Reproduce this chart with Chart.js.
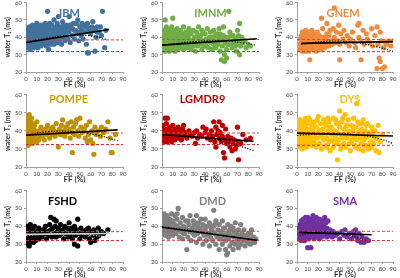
<!DOCTYPE html>
<html>
<head>
<meta charset="utf-8">
<script src="https://cdn.jsdelivr.net/npm/chart.js@4/dist/chart.umd.min.js"></script>
<style>
    html, body { margin: 0; padding: 0; background: #fff; width: 400px; height: 278px; overflow: hidden; position: relative; }
    canvas { position: absolute; }
</style>
</head>
<body>
<script>
// --- data: [FF %, water T2 ms] ---
const ibmPts = [[1,36],[1,39],[1,42],[2,34],[2,37],[2,40],[2,44],[3,35],[3,38],[3,41],[3,46],[4,33],[4,36],[4,39],[4,43],[5,37],[5,40],[5,45],[6,35],[6,38],[6,42],[6,47],[7,34],[7,37],[7,41],[7,44],[8,36],[8,39],[8,46],[9,35],[9,38],[9,42],[10,37],[10,40],[10,44],[10,48],[11,34],[11,39],[12,36],[12,41],[12,45],[13,38],[13,43],[14,35],[14,40],[14,47],[15,37],[15,42],[15,45],[16,39],[16,44],[17,36],[17,41],[18,38],[18,43],[18,48],[19,35],[19,40],[20,37],[20,42],[20,46],[20,55],[21,33],[22,39],[22,44],[23,36],[23,41],[24,38],[24,47],[25,40],[25,43],[26,36],[26,50],[27,39],[27,45],[28,42],[29,37],[29,48],[30,40],[30,44],[30,52],[31,38],[32,42],[32,46],[33,36],[34,40],[34,49],[35,43],[36,38],[36,45],[37,41],[38,47],[39,39],[40,43],[40,52],[41,37],[42,45],[43,41],[44,48],[45,39],[46,44],[47,42],[48,50],[49,38],[50,46],[51,41],[52,44],[53,39],[54,47],[55,43],[56,36],[57,31],[58,31],[58,45],[60,42],[62,49],[63,44],[64,32],[65,40],[66,46],[68,43],[70,41],[71,55],[73,34],[74,44],
    [1,45],[3,44],[5,42],[6,44],[8,41],[9,44],[11,42],[11,46],[13,46],[16,47],[17,45],[19,44],[21,46],[22,48],[24,44],[26,42],[28,46],[31,45],[33,44],[35,47],[37,44],[39,46],[41,47],[43,45],[45,44],[47,48],[50,43],[52,48],[55,46],[57,48],[59,43],[61,46],[64,45],[66,43],[69,46]];
const imnmPts = [[1,33],[1,37],[1,41],[2,35],[2,39],[2,44],[3,32],[3,36],[3,40],[3,50],[4,34],[4,38],[4,42],[4,46],[5,33],[5,37],[5,41],[6,35],[6,39],[6,44],[7,32],[7,36],[7,40],[8,34],[8,38],[8,43],[9,36],[9,41],[9,46],[10,33],[10,37],[10,51],[11,35],[11,39],[11,44],[12,32],[12,37],[12,42],[13,34],[13,40],[14,36],[14,45],[15,33],[15,38],[15,42],[16,35],[16,40],[17,37],[17,44],[18,34],[18,39],[19,36],[19,42],[20,33],[20,38],[20,46],[21,40],[22,35],[22,43],[23,37],[24,34],[24,41],[25,39],[25,45],[26,36],[27,33],[27,42],[28,38],[29,35],[29,44],[30,40],[31,37],[31,32],[32,43],[33,35],[34,39],[34,46],[35,36],[36,41],[37,33],[37,44],[38,38],[39,35],[40,42],[40,36],[41,39],[42,45],[43,34],[44,40],[45,37],[45,43],[46,33],[47,39],[48,36],[48,44],[49,41],[50,34],[50,38],[51,42],[52,36],[53,40],[53,45],[54,32],[55,38],[55,27],[56,35],[57,41],[57,46],[58,30],[58,26],[59,37],[60,33],[60,28],[61,40],[62,55],[62,36],[63,43],[64,38],[65,34],[66,41],[67,37],[68,39],[69,32],[70,44],[70,36],[71,38],[72,48],[72,30],[73,35],[74,40],[75,37],[77,38],[78,34],[80,36],[82,35],
    [2,41],[5,44],[7,38],[9,33],[11,41],[13,37],[16,43],[18,36],[21,35],[23,40],[26,43],[28,35],[30,37],[33,41],[35,39],[38,43],[41,35],[43,38],[46,40],[49,34],[51,37],[54,42],[56,39],[59,40],[61,36],[64,41],[66,36],[68,35],[71,41],[74,37]];
const gnemPts = [[3,33],[3,36],[3,39],[4,34],[4,37],[4,41],[5,32],[5,35],[5,38],[5,43],[6,33],[6,36],[6,40],[7,34],[7,38],[7,42],[8,32],[8,35],[8,39],[8,44],[9,33],[9,37],[9,41],[10,34],[10,36],[10,40],[11,32],[11,38],[11,43],[12,27],[12,35],[12,39],[13,33],[13,37],[13,41],[14,34],[14,44],[15,36],[15,39],[16,33],[16,38],[16,42],[17,35],[17,40],[18,32],[18,37],[19,36],[19,43],[20,34],[20,39],[21,41],[22,35],[22,38],[23,51],[23,33],[24,37],[24,45],[25,40],[26,36],[26,34],[27,39],[28,48],[28,42],[29,37],[30,41],[30,35],[31,44],[32,38],[33,36],[34,45],[35,57],[35,40],[36,37],[37,43],[38,38],[39,47],[40,27],[40,36],[41,42],[43,39],[44,44],[46,37],[47,41],[49,35],[50,39],[52,43],[54,37],[55,34],[57,47],[58,48],[58,40],[60,27],[60,38],[62,44],[63,36],[65,42],[66,39],[68,37],[70,45],[71,35],[73,41],[75,46],[75,22],[76,36],[77,28],[78,43],[78,26],[79,38],[80,22],[81,34],[82,23],[83,37],[84,36],[86,38],[88,35],[90,38]];
const pompePts = [[0,33],[0,36],[0,39],[0,42],[1,34],[1,37],[1,40],[1,44],[1,48],[2,32],[2,35],[2,38],[2,41],[2,46],[3,33],[3,36],[3,39],[3,43],[3,49],[4,34],[4,37],[4,40],[4,45],[5,35],[5,38],[5,42],[5,47],[6,33],[6,36],[6,39],[6,44],[7,34],[7,37],[7,41],[8,35],[8,38],[8,43],[9,36],[9,40],[10,34],[10,38],[10,45],[11,37],[12,40],[12,35],[13,39],[14,42],[15,37],[16,40],[17,35],[18,41],[19,38],[20,43],[21,39],[22,36],[23,41],[24,38],[25,42],[26,40],[27,37],[28,44],[29,39],[30,31],[31,41],[32,38],[33,43],[34,46],[35,40],[36,37],[37,42],[38,39],[39,44],[40,41],[41,36],[42,45],[43,28],[43,39],[44,42],[45,38],[46,44],[47,46],[48,40],[49,37],[50,47],[51,42],[52,39],[54,41],[55,36],[56,43],[57,34],[58,38],[59,45],[60,35],[61,40],[62,33],[63,27],[64,42],[65,38],[67,40],[69,37],[70,42],[72,39],[74,41],[76,45],[78,36],[79,28],[80,28],[83,38]];
const lgmdPts = [[0,35],[0,38],[0,41],[1,36],[1,39],[1,43],[2,34],[2,37],[2,40],[3,35],[3,38],[3,47],[4,36],[4,41],[4,44],[5,34],[5,38],[5,47],[6,37],[6,40],[7,35],[7,39],[7,42],[8,36],[8,38],[9,34],[9,40],[10,37],[10,43],[11,39],[12,35],[12,41],[13,37],[14,39],[15,36],[15,42],[16,38],[17,40],[18,35],[19,41],[20,37],[20,43],[21,39],[22,38],[23,36],[25,40],[26,38],[28,37],[30,39],[31,33],[32,40],[33,36],[35,38],[37,37],[38,42],[40,39],[41,41],[42,36],[44,38],[45,35],[46,40],[47,37],[48,45],[49,34],[50,42],[50,31],[51,38],[52,40],[53,45],[53,36],[54,39],[55,34],[56,43],[56,37],[57,28],[58,25],[58,35],[59,41],[60,33],[61,37],[62,34],[63,31],[64,36],[65,29],[66,33],[67,35],[68,30],[69,32],[70,42],[71,24],[71,34],[73,33],[75,38],[78,35],[82,36]];
const dysPts = [[1,32],[1,36],[1,40],[1,44],[2,34],[2,38],[2,42],[3,31],[3,35],[3,39],[3,46],[4,33],[4,37],[4,41],[5,30],[5,35],[5,43],[6,32],[6,38],[6,45],[7,34],[7,40],[8,36],[8,42],[8,47],[9,31],[9,38],[10,33],[10,40],[10,44],[11,36],[12,34],[12,41],[12,46],[13,38],[14,32],[14,43],[15,36],[15,40],[16,34],[16,45],[17,38],[18,31],[18,42],[19,36],[20,48],[20,39],[21,33],[22,44],[22,37],[23,30],[24,41],[25,35],[25,46],[26,38],[27,32],[27,43],[28,36],[29,40],[30,34],[30,45],[31,29],[32,38],[32,42],[33,35],[34,47],[34,31],[35,40],[36,37],[37,44],[37,33],[38,24],[38,39],[39,35],[40,51],[40,42],[41,30],[41,38],[42,45],[43,36],[44,33],[44,41],[45,49],[45,38],[46,31],[46,43],[47,36],[48,40],[48,46],[49,33],[50,38],[50,29],[51,43],[52,35],[52,40],[53,47],[54,32],[54,37],[55,42],[56,55],[56,35],[57,39],[58,30],[58,44],[59,36],[60,41],[60,33],[61,38],[62,46],[62,29],[63,35],[64,40],[65,32],[65,43],[66,37],[67,30],[68,39],[69,34],[70,42],[70,31],[71,37],[72,33],[73,40],[74,29],[75,36],[76,43],[77,28],[78,34],[80,38],
    [2,46],[5,39],[7,45],[9,41],[11,47],[13,34],[15,44],[17,32],[19,46],[21,40],[23,38],[26,44],[28,31],[29,47],[31,42],[33,39],[35,34],[36,46],[39,44],[42,32],[43,47],[47,43],[49,39],[51,34],[53,42],[55,31],[57,45],[59,39],[61,44],[63,32],[64,37],[66,44],[68,32],[71,40],[73,36]];
const fshdPts = [[0,31],[0,34],[0,37],[1,32],[1,35],[1,38],[1,40],[2,30],[2,33],[2,36],[2,39],[3,29],[3,32],[3,35],[3,38],[4,31],[4,34],[4,37],[4,41],[5,33],[5,36],[5,39],[6,32],[6,35],[6,38],[7,31],[7,34],[7,37],[8,33],[8,36],[8,40],[9,32],[9,35],[10,34],[10,37],[11,36],[12,33],[12,39],[13,35],[14,37],[15,34],[16,38],[17,36],[18,40],[19,33],[20,37],[21,35],[22,41],[23,45],[23,38],[24,34],[25,39],[26,44],[26,36],[27,40],[28,43],[28,34],[29,37],[30,39],[31,35],[32,41],[33,36],[34,38],[35,33],[36,40],[37,36],[38,39],[39,34],[40,42],[40,37],[41,35],[42,39],[43,33],[44,37],[45,30],[45,40],[46,35],[47,38],[48,44],[48,29],[49,36],[50,33],[51,39],[52,35],[53,37],[55,34],[56,38],[57,36],[58,39],[59,33],[60,31],[61,37],[62,35],[63,38],[64,32],[65,36],[66,34],[67,39],[68,35],[70,37],[72,36],[76,38]];
const dmdPts = [[1,36],[1,40],[1,44],[2,38],[2,42],[2,47],[3,35],[3,40],[3,45],[4,37],[4,43],[5,39],[5,46],[6,34],[6,41],[7,38],[7,44],[8,36],[8,42],[9,40],[9,47],[10,35],[10,43],[11,38],[12,41],[12,46],[13,36],[14,40],[14,44],[15,50],[15,38],[16,34],[17,42],[18,37],[19,45],[19,33],[20,40],[21,36],[22,43],[23,27],[23,38],[24,34],[25,41],[26,46],[26,37],[27,32],[28,39],[29,43],[30,35],[30,41],[31,38],[32,46],[32,31],[33,36],[34,42],[35,33],[35,39],[36,44],[37,37],[38,30],[38,41],[39,35],[40,38],[40,44],[41,32],[42,40],[43,36],[44,42],[44,29],[45,34],[46,38],[47,32],[48,49],[48,40],[49,36],[50,30],[50,43],[51,34],[52,38],[53,27],[53,41],[54,33],[55,37],[56,30],[56,43],[57,35],[58,39],[59,27],[59,32],[60,24],[60,36],[61,25],[61,41],[62,33],[63,29],[63,38],[64,35],[65,31],[66,39],[66,27],[67,34],[68,30],[68,42],[69,36],[70,32],[71,28],[71,38],[72,34],[73,41],[73,30],[74,36],[75,32],[76,38],[77,29],[78,34],[79,31],[80,36],[81,33],[82,30],[83,38],[84,32],[85,34],[86,31],[87,33],
    [3,42],[5,37],[7,41],[10,39],[12,37],[14,47],[17,39],[20,36],[22,39],[24,43],[27,38],[29,36],[31,42],[33,40],[36,37],[39,40],[42,35],[45,40],[47,37],[49,41],[52,35],[55,33],[57,39],[60,33],[62,37],[64,40],[67,37],[70,35],[73,33],[76,35],[79,34],[82,36],[85,31]];
const smaPts = [[2,33],[2,36],[2,39],[3,34],[3,37],[3,41],[4,32],[4,35],[4,38],[4,43],[5,33],[5,36],[5,40],[6,34],[6,38],[6,44],[7,32],[7,36],[7,41],[8,34],[8,39],[8,45],[9,33],[9,37],[9,42],[10,28],[10,35],[10,40],[10,45],[11,33],[11,38],[11,43],[12,36],[12,41],[13,28],[13,34],[13,39],[13,44],[14,37],[14,42],[15,35],[15,40],[15,46],[16,33],[16,38],[16,43],[17,36],[17,41],[18,34],[18,39],[18,45],[19,37],[19,42],[20,35],[20,40],[21,33],[21,38],[21,44],[22,36],[22,41],[23,34],[23,39],[24,37],[24,43],[25,35],[25,40],[26,38],[26,45],[27,36],[27,42],[28,34],[28,39],[29,37],[29,43],[30,35],[31,38],[32,36],[33,34],[34,37],[36,35],[38,36],[40,33],[42,37],[44,35],[45,38],[47,34],[49,36],[51,33],[53,37],[54,35],[55,38],[56,34],[57,32],[58,36],[60,31],[61,34],[63,31],[65,33],[67,32]];

// linear fit (solid) and quadratic fit (dotted) end/knot points
const ibmLin = [[0,37],[77,44.5]];
const ibmQuad = [[1,37.5],[20,39.5],[40,41],[60,40.8],[75,38.6]];
const imnmLin = [[0,35.5],[88,39.2]];
const imnmQuad = [[0,35.5],[30,37.5],[55,38],[75,36.8],[87,35.5]];
const gnemLin = [[4,36.5],[90,37.5]];
const gnemQuad = [[4,36],[30,37.8],[55,37],[75,34.5],[90,32]];
const pompeLin = [[0,37.5],[85,40.5]];
const pompeQuad = [[0,37.5],[20,39.5],[45,39.5],[65,37.8],[85,34.5]];
const lgmdLin = [[0,37.8],[85,34.2]];
const lgmdQuad = [[0,38],[30,37],[55,34.5],[70,32],[85,29]];
const dysLin = [[0,38.7],[90,37.1]];
const dysQuad = [[0,37.5],[35,38.5],[60,37.5],[78,35.5],[90,33]];
const fshdLin = [[0,35.5],[78,36]];
const fshdQuad = [[0,35],[40,36],[60,35.2],[78,33.5]];
const dmdLin = [[0,39.5],[88,32.2]];
const dmdQuad = [[0,39.8],[40,36.5],[70,33.6],[88,32.4]];
const smaLin = [[2,36.6],[70,35.3]];
const smaQuad = [[2,35],[25,37],[45,35.5],[65,32]];

// normal range (upper, lower) per panel
const ibmRef = [38.5, 31.8];
const imnmRef = [38.7, 31.8];
const gnemRef = [38.7, 31.7];
const pompeRef = [38.8, 32.4];
const lgmdRef = [38.8, 32.4];
const dysRef = [38.9, 32];
const fshdRef = [37, 32];
const dmdRef = [37.2, 32.2];
const smaRef = [37.2, 32];

const xTicks = [0, 10, 20, 30, 40, 50, 60, 70, 80, 90];
const yTicks = [20, 30, 40, 50, 60];

const panels = [
    { name: 'IBM',    pts: ibmPts,   lin: ibmLin,   quad: ibmQuad,   ref: ibmRef,   color: '#41719c', titleColor: '#4472a8' },
    { name: 'IMNM',   pts: imnmPts,  lin: imnmLin,  quad: imnmQuad,  ref: imnmRef,  color: '#70ad47', titleColor: '#70ad47' },
    { name: 'GNEM',   pts: gnemPts,  lin: gnemLin,  quad: gnemQuad,  ref: gnemRef,  color: '#f08a3c', titleColor: '#f08a3c' },
    { name: 'POMPE',  pts: pompePts, lin: pompeLin, quad: pompeQuad, ref: pompeRef, color: '#bf9000', titleColor: '#c9a000' },
    { name: 'LGMDR9', pts: lgmdPts,  lin: lgmdLin,  quad: lgmdQuad,  ref: lgmdRef,  color: '#c00000', titleColor: '#c00000' },
    { name: 'DYS',    pts: dysPts,   lin: dysLin,   quad: dysQuad,   ref: dysRef,   color: '#ffc000', titleColor: '#ffc000' },
    { name: 'FSHD',   pts: fshdPts,  lin: fshdLin,  quad: fshdQuad,  ref: fshdRef,  color: '#000000', titleColor: '#000000', fit: '#d0d0d0' },
    { name: 'DMD',    pts: dmdPts,   lin: dmdLin,   quad: dmdQuad,   ref: dmdRef,   color: '#808080', titleColor: '#808080' },
    { name: 'SMA',    pts: smaPts,   lin: smaLin,   quad: smaQuad,   ref: smaRef,   color: '#7030a0', titleColor: '#7030a0' }
];

// layout: plot rectangles in page pixels
const colLeft = [26, 162, 297];
const colRight = [123, 259, 393];
const rowTop = [2, 94, 190];
const rowBottom = [71.5, 167, 262];
const titleDy = [11, 5, 11];
const titleDx = [[-5, 0, -2], [-6, -8, 5], [-12, 2, 0]];

Chart.defaults.font.family = 'Lato, "Liberation Sans", sans-serif';

const panelLabel = {
    id: 'panelLabel',
    afterDatasetsDraw(chart, args, opts) {
        const { ctx, chartArea } = chart;
        ctx.save();
        ctx.font = 'bold 11px Lato, "Liberation Sans", sans-serif';
        ctx.fillStyle = opts.color;
        ctx.textAlign = 'center';
        ctx.textBaseline = 'middle';
        ctx.fillText(opts.text, (chartArea.left + chartArea.right) / 2 + opts.dx, chartArea.top + opts.dy);
        ctx.restore();
    }
};

const YW = 26, PADT = 5, XH = 17;

panels.forEach((p, i) => {
    const row = Math.floor(i / 3), col = i % 3;
    const plotW = colRight[col] - colLeft[col];
    const plotH = rowBottom[row] - rowTop[row];
    const left = colLeft[col] - YW;
    const top = rowTop[row] - PADT;
    const width = Math.round(YW + plotW + 8);
    const height = Math.round(PADT + plotH + XH);

    const cv = document.createElement('canvas');
    cv.width = width; cv.height = height;
    cv.style.left = left + 'px'; cv.style.top = top + 'px';
    cv.style.width = width + 'px'; cv.style.height = height + 'px';
    document.body.appendChild(cv);

    const fitColor = p.fit || '#000';
    const toXY = arr => arr.map(([x, y]) => ({ x, y }));

    new Chart(cv.getContext('2d'), {
        type: 'scatter',
        data: {
            datasets: [
                { data: toXY(p.lin), showLine: true, borderColor: fitColor, borderWidth: 1.6, pointRadius: 0, order: 0 },
                { data: toXY(p.quad), showLine: true, borderColor: fitColor, borderWidth: 1.2, borderDash: [1.2, 1.6], tension: 0.4, pointRadius: 0, order: 1 },
                { data: [{ x: 0, y: p.ref[0] }, { x: 90, y: p.ref[0] }], showLine: true, borderColor: '#e8413a', borderWidth: 1, borderDash: [3, 2], pointRadius: 0, order: 2 },
                { data: [{ x: 0, y: p.ref[1] }, { x: 90, y: p.ref[1] }], showLine: true, borderColor: '#d9242a', borderWidth: 1, borderDash: [3, 2], pointRadius: 0, order: 3 },
                { data: toXY(p.pts), backgroundColor: p.color, borderWidth: 0, pointRadius: 2.6, order: 4 }
            ]
        },
        options: {
            responsive: false,
            animation: false,
            layout: { padding: { top: PADT, right: width - YW - plotW, left: 0, bottom: 0 } },
            plugins: {
                legend: { display: false },
                tooltip: { enabled: false },
                panelLabel: { text: p.name, color: p.titleColor, dx: titleDx[row][col], dy: titleDy[row] }
            },
            scales: {
                x: {
                    type: 'linear', min: 0, max: 90,
                    afterBuildTicks: s => { s.ticks = xTicks.map(v => ({ value: v })); },
                    ticks: { font: { size: 6 }, color: '#404040', padding: 1, maxRotation: 0, autoSkip: false },
                    grid: { drawOnChartArea: false, tickLength: 2, color: '#a0a0a0' },
                    border: { color: '#a0a0a0' },
                    title: { display: true, text: 'FF (%)', font: { size: 8, weight: 'bold' }, color: '#333', padding: 0 },
                    afterFit: s => { s.height = XH; }
                },
                y: {
                    type: 'linear', min: 20, max: 60,
                    afterBuildTicks: s => { s.ticks = yTicks.map(v => ({ value: v })); },
                    ticks: { font: { size: 6 }, color: '#404040', padding: 2 },
                    grid: { drawOnChartArea: false, tickLength: 2, color: '#a0a0a0' },
                    border: { color: '#a0a0a0' },
                    title: { display: true, text: 'water T\u2082 (ms)', font: { size: 7, weight: 'bold' }, color: '#333', padding: { top: 4, bottom: 0 } },
                    afterFit: s => { s.width = YW; }
                }
            }
        },
        plugins: [panelLabel]
    });
});
</script>
</body>
</html>
